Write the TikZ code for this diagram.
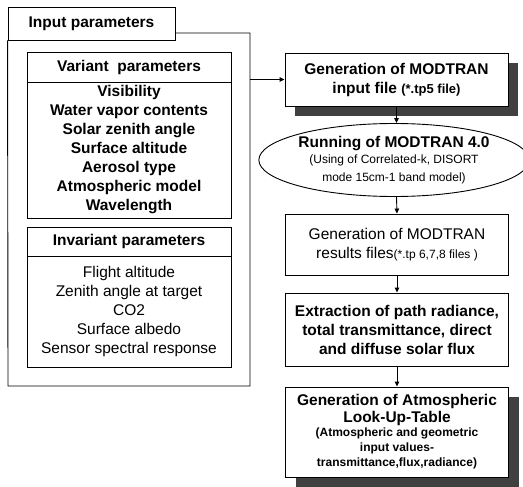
\documentclass[tikz,border=0pt]{standalone}
\usepackage{fontspec}
\setmainfont{Liberation Sans}
\usetikzlibrary{positioning}
\usetikzlibrary{shapes.geometric}
\usetikzlibrary{shadows}
\usetikzlibrary{arrows.meta}
\newcommand{\largebold}{\fontsize{15.5}{19}\selectfont\bfseries}
\newcommand{\largereg}{\fontsize{15.5}{19}\selectfont}
\newcommand{\smallbold}{\fontsize{12}{15}\selectfont\bfseries}
\newcommand{\smallreg}{\fontsize{12}{18}\selectfont}
\tikzstyle{parbox} = [draw, minimum width=204pt, inner sep=0pt, align=center]
\tikzstyle{flowbox} = [draw, fill=white, minimum width=223pt, inner sep=0pt, align=center]
\tikzstyle{runnode} = [draw, ellipse, fill=white, minimum width=256pt, minimum height=73pt, inner sep=0pt, align=center]
\tikzstyle{darkshadow} = [drop shadow={shadow xshift=10pt, shadow yshift=-10pt, fill=black!75, opacity=1}]
\tikzstyle{flowarrow} = [-{Triangle[length=5pt,width=4.5pt]}]

\begin{document}
\begin{tikzpicture}[x=1pt, y=-1pt, line width=0.9pt]
    \useasboundingbox (0,0) rectangle (523,487);

    % input parameters
    \node[draw, minimum width=167pt, minimum height=33pt, inner sep=0pt, font=\largebold] (inputtab) at (91.5,23.5) {Input parameters};
    \coordinate (framene) at (250,33);
    \coordinate (framesw) at (8,386);
    \draw (inputtab.east |- framene) -- (framene) -- (framene |- framesw) -- (framesw) -- (inputtab.south west);

    \node[parbox, minimum height=30pt, font=\largebold] (varhead) at (129,67) {Variant\ \ parameters};
    \node[parbox, minimum height=136pt, font=\largebold] (varlist) at (129,150) {Visibility\\Water vapor contents\\Solar zenith angle\\Surface altitude\\Aerosol type\\Atmospheric model\\Wavelength};
    \node[parbox, minimum height=29pt, font=\largebold] (invhead) at (129,241.5) {Invariant parameters};
    \node[parbox, minimum height=111pt, font=\largereg] (invlist) at (129,311.5) {Flight altitude\\Zenith angle at target\\CO2\\Surface albedo\\Sensor spectral response};

    % processing chain
    \node[flowbox, darkshadow, minimum height=53pt, font=\largebold] (genin) at (396.5,79.5) {Generation of MODTRAN\\input file {\fontsize{13}{15}\selectfont(*.tp5 file)}};
    \node[runnode, font=\smallreg] (runmod) at (394,160) {{\largebold Running of MODTRAN 4.0}\\[-1.5pt](Using of Correlated-k, DISORT\\mode 15cm-1 band model)};
    \node[flowbox, minimum height=61pt, font=\largereg] (genres) at (397,244.5) {Generation of MODTRAN\\results files{\smallreg(*.tp 6,7,8 files )}};
    \node[flowbox, minimum height=73pt, font=\largebold] (extract) at (397,329.5) {Extraction of path radiance,\\total transmittance, direct\\and diffuse solar flux};
    \node[flowbox, darkshadow, minimum height=90pt, font=\smallbold] (lut) at (397,432) {{\largebold Generation of Atmospheric}\\[2pt]{\largebold Look-Up-Table}\\[-1pt](Atmospheric and geometric\\input values-\\transmittance,flux,radiance)};

    \draw[flowarrow] (framene |- genin.west) -- (genin.west);
    \draw[flowarrow] (genin.south) -- (genin.south |- runmod.north);
    \draw[flowarrow] (genin.south |- runmod.south) -- (genres.north);
    \draw[flowarrow] (genres.south) -- (extract.north);
    \draw[flowarrow] (extract.south) -- (lut.north);
\end{tikzpicture}
\end{document}
